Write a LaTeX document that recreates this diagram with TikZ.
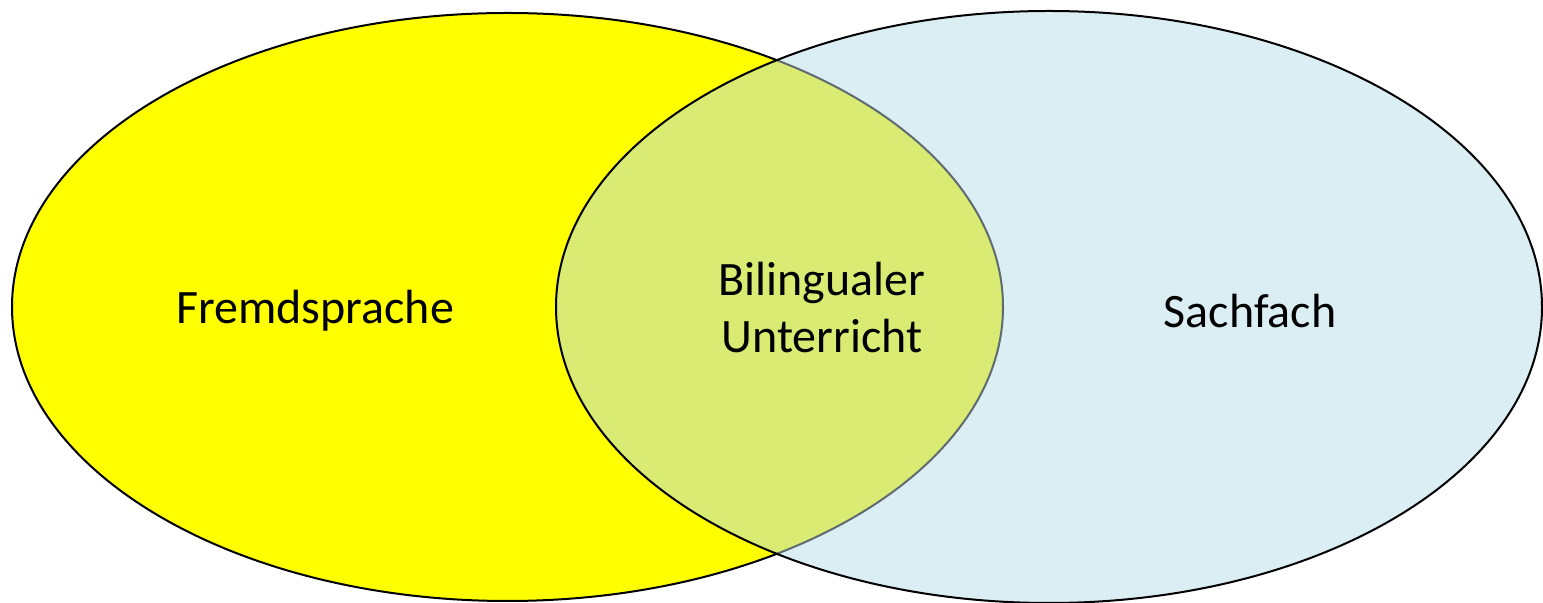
\documentclass[tikz,border=0pt]{standalone}
\usepackage{fontspec}
\setmainfont{Carlito}
\definecolor{lyellow}{HTML}{FFFF00}
\definecolor{lblue}{HTML}{DAEEF3}
\definecolor{lmix}{HTML}{DAEB73}
\definecolor{lgray}{HTML}{5F6B70}
\begin{document}
\begin{tikzpicture}[x=0.5pt,y=-0.5pt,
  lbl/.style={font=\fontsize{24}{28.5}\selectfont,align=center,text=black,inner sep=0pt}]
\useasboundingbox (0,0) rectangle (1543,603);
\path[fill=lyellow,draw=black,line width=1pt] (507.5,307) ellipse [x radius=495.5, y radius=294];
\path[fill=lblue] (1049,307) ellipse [x radius=493, y radius=296];
\begin{scope}
\clip (1049,307) ellipse [x radius=493, y radius=296];
\path[fill=lmix] (507.5,307) ellipse [x radius=495.5, y radius=294];
\path[draw=lgray,line width=1pt] (507.5,307) ellipse [x radius=495.5, y radius=294];
\end{scope}
\path[draw=black,line width=1pt] (1049,307) ellipse [x radius=493, y radius=296];
\node[lbl] (fs) at (315,311) {Fremdsprache};
\node[lbl] (bu) at (822,308) {Bilingualer\\Unterricht};
\node[lbl] (sf) at (1250,311) {Sachfach};
\end{tikzpicture}
\end{document}
